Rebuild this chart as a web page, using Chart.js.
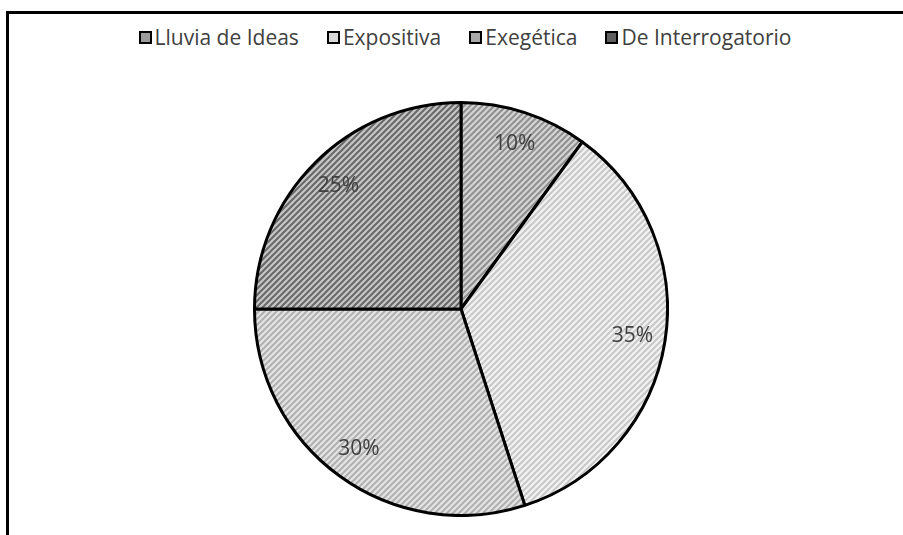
<!DOCTYPE html>
<html>
<head>
<meta charset="utf-8">
<script src="https://cdn.jsdelivr.net/npm/chart.js@4.4.1/dist/chart.umd.min.js"></script>
<style>
body { margin: 0; background: #fff; width: 903px; height: 535px; overflow: hidden; position: relative; font-family: "Open Sans", sans-serif; }
#frame { position: absolute; left: 6px; top: 11px; width: 920px; height: 600px; border-top: 3px solid #000; border-left: 3px solid #000; }
#legend { position: absolute; top: 24px; left: 0; width: 930px; display: flex; justify-content: center; font-size: 21px; color: #404040; line-height: 26px; }
#legend .item { display: flex; align-items: center; margin: 0 14px; }
#legend .box { width: 9px; height: 9px; border: 2px solid #000; margin-right: 3px; }
#wrap { position: absolute; left: 253px; top: 101px; width: 416px; height: 416px; }
</style>
</head>
<body>
<div id="frame"></div>
<div id="legend"></div>
<div id="wrap"><canvas id="pie"></canvas></div>
<script>
const categories = ["Lluvia de Ideas", "Expositiva", "Exegética", "De Interrogatorio"];
const values = [10, 35, 30, 25];
const bgColors = ["#d4d4d4", "#f2f2f2", "#e4e4e4", "#c6c6c6"];
const stripeColors = ["#909090", "#c8c8c8", "#b0b0b0", "#686868"];
const swatchColors = ["#9c9c9c", "#d8d8d8", "#a8a8a8", "#606060"];

function makePattern(bg, stripe) {
    let c = document.createElement("canvas");
    c.width = 6;
    c.height = 6;
    let g = c.getContext("2d");
    g.fillStyle = bg;
    g.fillRect(0, 0, 6, 6);
    g.strokeStyle = stripe;
    g.lineWidth = 2;
    g.beginPath();
    g.moveTo(-2, 8); g.lineTo(8, -2);
    g.moveTo(-5, 5); g.lineTo(5, -5);
    g.moveTo(1, 11); g.lineTo(11, 1);
    g.stroke();
    return g.createPattern(c, "repeat");
}

// legend
let legendElement = document.querySelector("#legend");
for (let i = 0; i < categories.length; i++) {
    let item = document.createElement("div");
    item.className = "item";
    item.innerHTML = '<span class="box" style="background:' + swatchColors[i] + '"></span><span>' + categories[i] + '</span>';
    legendElement.appendChild(item);
}

// porcentajes dentro de cada sector
const sliceLabels = {
    id: "sliceLabels",
    afterDatasetsDraw(chart) {
        let ctx = chart.ctx;
        let arcs = chart.getDatasetMeta(0).data;
        ctx.save();
        ctx.font = "21px 'Open Sans'";
        ctx.fillStyle = "#404040";
        ctx.textAlign = "center";
        ctx.textBaseline = "middle";
        arcs.forEach(function(arc, i) {
            let mid = (arc.startAngle + arc.endAngle) / 2;
            let r = arc.outerRadius * 0.84;
            ctx.fillText(values[i] + "%", arc.x + Math.cos(mid) * r, arc.y + Math.sin(mid) * r);
        });
        ctx.restore();
    }
};

let ctx = document.getElementById("pie").getContext("2d");
new Chart(ctx, {
    type: "pie",
    data: {
        labels: categories,
        datasets: [{
            data: values,
            backgroundColor: categories.map(function(c, i) { return makePattern(bgColors[i], stripeColors[i]); }),
            borderColor: "#000",
            borderWidth: 3
        }]
    },
    options: {
        responsive: true,
        maintainAspectRatio: false,
        animation: false,
        layout: { padding: 0 },
        plugins: {
            legend: { display: false },
            tooltip: { enabled: false }
        }
    },
    plugins: [sliceLabels]
});
</script>
</body>
</html>
